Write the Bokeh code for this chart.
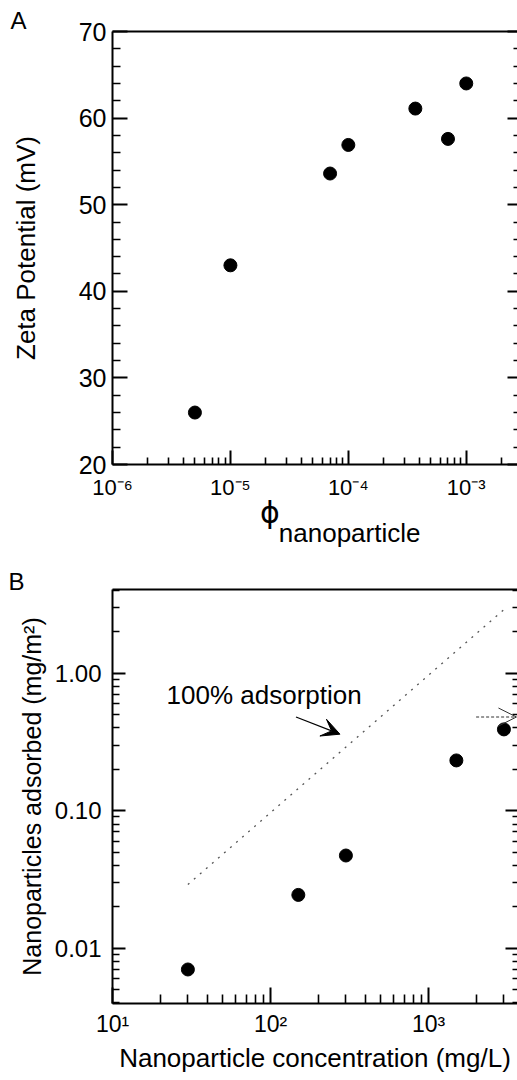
from bokeh.plotting import figure
from bokeh.models import (LinearAxis, LogAxis, FixedTicker, Title, Div, Spacer,
                          Label, Arrow, VeeHead, OpenHead, Range1d)
from bokeh.layouts import column
from bokeh.embed import file_html
from bokeh.resources import INLINE

# ---------------- Panel A data ----------------
phi_np = [5e-6, 1e-5, 7e-5, 1e-4, 3.7e-4, 7e-4, 1e-3]
zeta_mv = [26.0, 43.0, 53.6, 56.9, 61.1, 57.6, 64.0]
a_xticks = [1e-6, 1e-5, 1e-4, 1e-3]
a_xtick_labels = ["10⁻⁶", "10⁻⁵", "10⁻⁴", "10⁻³"]
a_xminor = [m * d for d in [1e-6, 1e-5, 1e-4, 1e-3] for m in range(2, 10)]
a_yticks = [20, 30, 40, 50, 60, 70]
a_yminor = [v for v in range(20, 71, 2) if v % 10 != 0]

# ---------------- Panel B data ----------------
conc = [30, 150, 300, 1500, 3000]
adsorbed = [0.0070, 0.0244, 0.0472, 0.232, 0.39]
ideal_conc = [30, 3000]
ideal_ads = [0.029, 2.9]
b_xticks = [10, 100, 1000]
b_xtick_labels = ["10¹", "10²", "10³"]
b_xminor = [m * d for d in [10, 100, 1000] for m in range(2, 10)]
b_yticks = [0.01, 0.1, 1.0]
b_ytick_labels = ["0.01", "0.10", "1.00"]
b_yminor = [m * d for d in [0.001, 0.01, 0.1, 1.0] for m in range(2, 10)]

FONT = "Liberation Sans"


def style_axis(ax, major_in, minor_in, size="24px"):
    ax.axis_line_width = 2
    ax.axis_line_color = "black"
    ax.major_tick_line_width = 2
    ax.minor_tick_line_width = 1.6
    ax.major_tick_in = major_in
    ax.major_tick_out = 0
    ax.minor_tick_in = minor_in
    ax.minor_tick_out = 0
    ax.major_label_text_font = FONT
    ax.major_label_text_font_size = size
    ax.major_label_text_color = "black"
    ax.axis_label_text_font = FONT
    ax.axis_label_text_font_style = "normal"
    ax.axis_label_text_color = "black"


def tick_only_axis(ax, tick_in, line=False, width=2):
    # minor ticks only, so no labels are drawn at all
    ax.axis_line_width = 2
    ax.axis_line_color = "black" if line else None
    ax.minor_tick_line_width = width
    ax.minor_tick_in = tick_in
    ax.minor_tick_out = 0
    ax.major_tick_in = 0
    ax.major_tick_out = 0
    ax.major_label_standoff = 0


def panel_title(text, offset, standoff):
    return Title(text=text, align="left", vertical_align="top", offset=offset,
                 standoff=standoff, text_font=FONT, text_font_size="24px",
                 text_font_style="normal", text_color="black")


top_gap = Spacer(width=517, height=5, margin=0)

# ================= Panel A =================
p1 = figure(width=517, height=500, x_axis_type="log",
            x_range=Range1d(1e-6, 2.72e-3), y_range=Range1d(20, 70),
            output_backend="svg", toolbar_location=None,
            min_border_left=110, min_border_right=0,
            min_border_top=26, min_border_bottom=41)
p1.outline_line_color = None
p1.grid.visible = False
p1.background_fill_color = "white"
p1.border_fill_color = "white"

xa = p1.xaxis[0]
xa.ticker = FixedTicker(ticks=a_xticks, minor_ticks=a_xminor)
xa.major_label_overrides = {t: l for t, l in zip(a_xticks, a_xtick_labels)}
style_axis(xa, 14, 7, "22px")
xa.major_label_standoff = 10

ya = p1.yaxis[0]
ya.ticker = FixedTicker(ticks=a_yticks, minor_ticks=a_yminor)
style_axis(ya, 15, 8, "25px")
ya.major_label_standoff = 6
ya.axis_label = "Zeta Potential (mV)"
ya.axis_label_text_font_size = "26px"
ya.axis_label_standoff = 35

ra1 = LinearAxis(ticker=FixedTicker(ticks=[], minor_ticks=a_yticks))
tick_only_axis(ra1, 10)
p1.add_layout(ra1, "right")
ra2 = LinearAxis(ticker=FixedTicker(ticks=[], minor_ticks=a_yminor))
tick_only_axis(ra2, 4, width=1.6)
p1.add_layout(ra2, "right")
ta = LinearAxis(ticker=FixedTicker(ticks=[], minor_ticks=[]))
tick_only_axis(ta, 0, line=True)
p1.add_layout(ta, "above")
p1.add_layout(panel_title("A", -102, -9), "above")

p1.scatter(phi_np, zeta_mv, size=13, color="black")

# x-axis title of panel A: phi with subscript, as real HTML text
xlabel_a = Div(
    text=('<div style="font-family:\'Liberation Sans\',Arial,sans-serif;color:#000;'
          'white-space:nowrap;line-height:1;font-size:32px;padding-left:260px;'
          'position:relative;top:-9px;">'
          '<span style="font-family:\'DejaVu Sans\',sans-serif;font-size:30px;">ϕ</span>'
          '<span style="font-size:26px;position:relative;top:19px;margin-left:-1px;">'
          'nanoparticle</span></div>'),
    width=517, height=58, margin=0)

# ================= Panel B =================
p2 = figure(width=517, height=517, x_axis_type="log", y_axis_type="log",
            x_range=Range1d(10, 3656), y_range=Range1d(0.00396, 4.06),
            output_backend="svg", toolbar_location=None,
            min_border_left=112, min_border_right=0,
            min_border_top=26, min_border_bottom=77)
p2.outline_line_color = None
p2.grid.visible = False
p2.background_fill_color = "white"
p2.border_fill_color = "white"

xb = p2.xaxis[0]
xb.ticker = FixedTicker(ticks=b_xticks, minor_ticks=b_xminor)
xb.major_label_overrides = {t: l for t, l in zip(b_xticks, b_xtick_labels)}
style_axis(xb, 16, 9, "23px")
xb.major_label_standoff = 7
xb.axis_label = "Nanoparticle concentration (mg/L)"
xb.axis_label_text_font_size = "26px"
xb.axis_label_standoff = 3

yb = p2.yaxis[0]
yb.ticker = FixedTicker(ticks=b_yticks, minor_ticks=b_yminor)
yb.major_label_overrides = {t: l for t, l in zip(b_yticks, b_ytick_labels)}
style_axis(yb, 13, 7, "24px")
yb.major_label_standoff = 11
yb.axis_label = "Nanoparticles adsorbed (mg/m²)"
yb.axis_label_text_font_size = "25px"
yb.axis_label_standoff = 6

rb1 = LogAxis(ticker=FixedTicker(ticks=[], minor_ticks=b_yticks))
tick_only_axis(rb1, 12)
p2.add_layout(rb1, "right")
rb2 = LogAxis(ticker=FixedTicker(ticks=[], minor_ticks=b_yminor))
tick_only_axis(rb2, 5, width=1.6)
p2.add_layout(rb2, "right")
tb = LinearAxis(ticker=FixedTicker(ticks=[], minor_ticks=[]))
tick_only_axis(tb, 0, line=True)
p2.add_layout(tb, "above")
p2.add_layout(panel_title("B", -104, -15), "above")

p2.line(ideal_conc, ideal_ads, line_color="#555555", line_width=1.3, line_dash="2 6")
p2.scatter(conc, adsorbed, size=13, color="black")

p2.add_layout(Label(x=22, y=0.69, text="100% adsorption", text_font=FONT,
                    text_font_size="26px", text_color="black",
                    text_baseline="alphabetic"))
p2.add_layout(Arrow(x_start=145, y_start=0.48, x_end=275, y_end=0.36,
                    line_color="black", line_width=1.3,
                    end=VeeHead(size=18, fill_color="black", line_color="black")))
p2.add_layout(Arrow(x_start=2000, y_start=0.48, x_end=3600, y_end=0.48,
                    line_color="#333333", line_width=1, line_dash="3 2",
                    end=OpenHead(size=18, line_color="#333333", line_width=1)))

layout = column(top_gap, p1, xlabel_a, p2)
open("out.html", "w").write(file_html(layout, INLINE))
